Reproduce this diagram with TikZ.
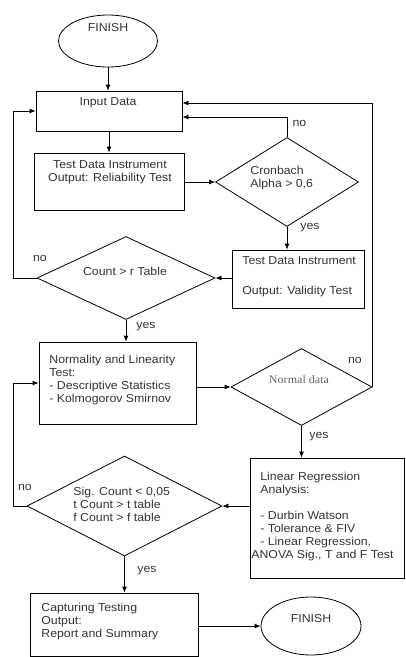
\documentclass[tikz,border=0pt]{standalone}
\usepackage{fontspec}
\setmainfont[FakeStretch=1.07]{Liberation Sans}
\newfontfamily\ndserif[FakeStretch=1.05]{Liberation Serif}
\usetikzlibrary{shapes.geometric,arrows.meta}
\tikzset{
  >={Latex[length=6pt,width=5pt]},
  box/.style={draw, rectangle, inner sep=0pt},
  decision/.style={draw, diamond, inner sep=0pt},
  terminal/.style={draw, ellipse, inner sep=0pt},
  txt/.style={inner sep=0pt, align=left, text=black!80},
}

\begin{document}
\begin{tikzpicture}[x=1pt,y=-1pt,line width=.8pt,font=\fontsize{11.5}{13}\selectfont]
    \useasboundingbox (0,0) rectangle (405,657);
    % shapes
    \node[terminal, minimum width=99pt, minimum height=52pt] (fin1) at (108,41) {};
    \node[box, minimum width=146pt, minimum height=40pt] (input) at (109,111) {};
    \node[box, minimum width=150pt, minimum height=57pt] (rel) at (109,181.5) {};
    \node[decision, minimum width=143pt, minimum height=89pt] (cron) at (287,182) {};
    \node[box, minimum width=132pt, minimum height=58pt] (valid) at (298,279) {};
    \node[decision, minimum width=178pt, minimum height=83pt] (count) at (126,278) {};
    \node[box, minimum width=157pt, minimum height=82pt] (norm) at (117.5,383) {};
    \node[decision, minimum width=141pt, minimum height=77pt] (ndata) at (301.5,387) {};
    \node[box, minimum width=154pt, minimum height=120pt] (linreg) at (327,518) {};
    \node[decision, minimum width=195pt, minimum height=100pt] (sig) at (124.5,506) {};
    \node[box, minimum width=168pt, minimum height=63pt] (capt) at (114,624.5) {};
    \node[terminal, minimum width=100pt, minimum height=58pt] (fin2) at (311,626) {};
    \coordinate (lft) at (13,0);

    % texts
    \node[txt] (fin1-t) at (108,28) {FINISH};
    \node[txt] (input-t) at (108,103) {Input Data};
    \node[txt, align=center] (rel-t) at (110,172) {Test Data Instrument\\Output: Reliability Test};
    \node[txt, anchor=west] (cron-t) at (250,178) {Cronbach\\Alpha > 0,6};
    \node[txt, anchor=west] (valid-t) at (242,277) {Test Data Instrument\\[17pt]Output: Validity Test};
    \node[txt] (count-t) at (125,271) {Count > r Table};
    \node[txt, anchor=west] (norm-t) at (49,380)
      {Normality and Linearity\\Test:\\- Descriptive Statistics\\- Kolmogorov Smirnov};
    \node[txt, text=black!60, font=\ndserif\fontsize{11.5}{13}\selectfont] (ndata-t) at (299,380) {Normal data};
    \node[txt, anchor=west] (linreg-t) at (251,517)
      {\hspace*{9pt}Linear Regression\\\hspace*{9pt}Analysis:\\[13pt]\hspace*{9pt}- Durbin Watson\\
       \hspace*{9pt}- Tolerance \& FIV\\\hspace*{9pt}- Linear Regression,\\ANOVA Sig., T and F Test};
    \node[txt, anchor=west] (sig-t) at (73,504) {Sig. Count < 0,05\\t Count > t table\\f Count > f table};
    \node[txt, anchor=west] (capt-t) at (41,622) {Capturing Testing\\Output:\\Report and Summary};
    \node[txt] (fin2-t) at (311,619) {FINISH};

    % yes / no
    \node[txt] (no1) at (299.5,123) {no};
    \node[txt] (yes1) at (310,228) {yes};
    \node[txt] (no2) at (40,258) {no};
    \node[txt] (yes2) at (146,327) {yes};
    \node[txt] (no3) at (355,360) {no};
    \node[txt] (yes3) at (319,437) {yes};
    \node[txt] (no4) at (25,487) {no};
    \node[txt] (yes4) at (147,571) {yes};

    % connectors
    \draw[->] (fin1.south) -- (fin1.south |- input.north);
    \draw[->] (input.south) -- (rel.north);
    \draw[->] (rel.east |- cron.west) -- (cron.west);
    \draw[->] (cron.north) |- ([yshift=-6pt]input.east);
    \draw[->] (ndata.east) |- ([yshift=8pt]input.east);
    \draw[->] (cron.south) -- (cron.south |- valid.north);
    \draw[->] (valid.west |- count.east) -- (count.east);
    \draw[->] (count.west) -- (count.west -| lft) |- (input.west);
    \draw[->] (count.south) -- (count.south |- norm.north);
    \draw[->] (norm.east |- ndata.west) -- (ndata.west);
    \draw[->] (ndata.south) -- (ndata.south |- linreg.north);
    \draw[->] (linreg.west |- sig.east) -- (sig.east);
    \draw[->] (sig.west) -- (sig.west -| lft) |- (norm.west);
    \draw[->] (sig.south) -- (sig.south |- capt.north);
    \draw[->] (capt.east |- fin2.west) -- (fin2.west);
\end{tikzpicture}
\end{document}
